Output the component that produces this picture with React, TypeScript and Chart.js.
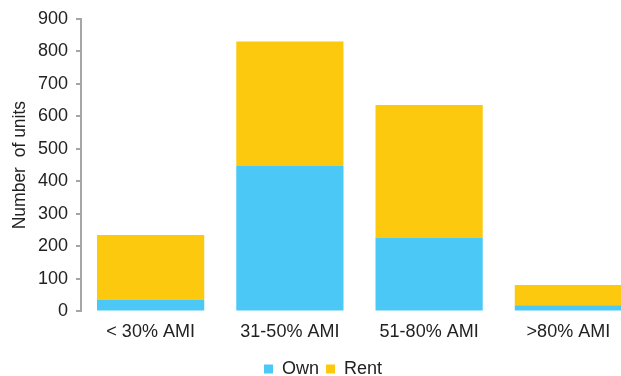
import React, { useEffect, useRef } from "react";
import { Chart, registerables } from "chart.js";

Chart.register(...registerables);

const categories = ["< 30% AMI", "31-50% AMI", "51-80% AMI", ">80% AMI"];
const ownValues = [35, 447, 227, 19];
const rentValues = [200, 383, 408, 62];
const yTicks = [0, 100, 200, 300, 400, 500, 600, 700, 800, 900];

const FONT = "'Liberation Sans', Arial, sans-serif";

export default function App() {
  const ref = useRef<HTMLCanvasElement | null>(null);

  useEffect(() => {
    if (!ref.current) return;
    const chart = new Chart(ref.current, {
      type: "bar",
      data: {
        labels: categories,
        datasets: [
          {
            label: "Own",
            data: ownValues,
            backgroundColor: "#4BC8F5",
            borderWidth: 0,
            categoryPercentage: 1,
            barPercentage: 0.77,
          },
          {
            label: "Rent",
            data: rentValues,
            backgroundColor: "#FDC90F",
            borderWidth: 0,
            categoryPercentage: 1,
            barPercentage: 0.77,
          },
        ],
      },
      options: {
        responsive: false,
        animation: false,
        layout: { padding: { left: 8, right: 12, top: 17, bottom: 0 } },
        plugins: {
          tooltip: { enabled: false },
          legend: {
            position: "bottom",
            labels: {
              boxWidth: 9,
              boxHeight: 9,
              padding: 7,
              color: "#222",
              font: { family: FONT, size: 18 },
            },
          },
        },
        scales: {
          x: {
            stacked: true,
            grid: { display: false, drawTicks: false },
            border: { display: false },
            ticks: {
              color: "#222",
              font: { family: FONT, size: 18 },
              padding: 10,
              maxRotation: 0,
            },
          },
          y: {
            stacked: true,
            min: 0,
            max: 900,
            afterFit: (scale: any) => {
              scale.width = 73;
            },
            afterBuildTicks: (scale: any) => {
              scale.ticks = yTicks.map((v) => ({ value: v }));
            },
            grid: {
              drawOnChartArea: false,
              drawTicks: true,
              tickLength: 5,
              color: "#A6A6A6",
              lineWidth: 2,
            },
            border: { display: true, color: "#A6A6A6", width: 2 },
            ticks: {
              color: "#222",
              font: { family: FONT, size: 18 },
              padding: 8,
            },
            title: {
              display: true,
              text: "Number  of units",
              color: "#222",
              font: { family: FONT, size: 17.5 },
              padding: { top: 2, bottom: 2 },
            },
          },
        },
      },
    });
    return () => chart.destroy();
  }, []);

  return (
    <div
      style={{
        position: "fixed",
        left: 0,
        top: 0,
        width: 621,
        height: 376,
        overflow: "hidden",
        background: "#fff",
      }}
    >
      <canvas ref={ref} width={650} height={388} style={{ display: "block" }} />
    </div>
  );
}
